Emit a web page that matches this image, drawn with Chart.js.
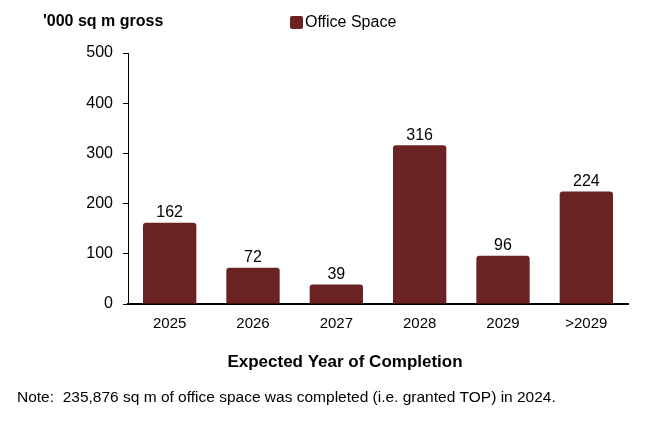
<!DOCTYPE html>
<html><head><meta charset="utf-8">
<script src="https://cdn.jsdelivr.net/npm/chart.js@4/dist/chart.umd.min.js"></script>
<style>html,body{margin:0;padding:0;background:#fff}#wrap{width:650px;height:423px;position:relative}</style>
</head><body><div id="wrap"><canvas id="c" width="650" height="423"></canvas></div>
<script>
const categories = ['2025','2026','2027','2028','2029','>2029'];
const officeSpace = [162, 72, 39, 316, 96, 224];
const yTicks = [0, 100, 200, 300, 400, 500];
const seriesName = 'Office Space';
const yTitle = "'000 sq m gross";
const xTitle = 'Expected Year of Completion';
const note = 'Note:  235,876 sq m of office space was completed (i.e. granted TOP) in 2024.';

const barColor = '#6b2222';
const FONT = 'Arial, "Liberation Sans", sans-serif';

const extras = {
  id: 'extras',
  afterDatasetsDraw(chart) {
    const ctx = chart.ctx;
    const meta = chart.getDatasetMeta(0);
    ctx.save();
    ctx.fillStyle = '#000';
    ctx.font = '16px ' + FONT;
    ctx.textAlign = 'center';
    ctx.textBaseline = 'bottom';
    meta.data.forEach((bar, i) => {
      ctx.fillText(String(officeSpace[i]), bar.x, bar.y - 2);
    });
    ctx.restore();
  },
  afterDraw(chart) {
    const ctx = chart.ctx;
    ctx.save();
    ctx.fillStyle = '#000';
    ctx.textBaseline = 'middle';
    ctx.textAlign = 'left';
    ctx.font = 'bold 16px ' + FONT;
    ctx.fillText(yTitle, 43, 22);
    // legend
    ctx.fillStyle = barColor;
    ctx.beginPath();
    ctx.roundRect(290, 16, 13, 13, 2);
    ctx.fill();
    ctx.fillStyle = '#000';
    ctx.font = '16px ' + FONT;
    ctx.fillText(seriesName, 305, 23);
    // x title
    ctx.textAlign = 'center';
    ctx.font = 'bold 17px ' + FONT;
    ctx.fillText(xTitle, 345, 362);
    // note
    ctx.textAlign = 'left';
    ctx.font = '15.5px ' + FONT;
    ctx.fillText(note, 17, 398);
    ctx.restore();
  }
};

new Chart(document.getElementById('c'), {
  type: 'bar',
  data: {
    labels: categories,
    datasets: [{
      label: seriesName,
      data: officeSpace,
      backgroundColor: barColor,
      borderRadius: 3,
      borderSkipped: 'bottom',
      categoryPercentage: 0.64,
      barPercentage: 1.0
    }]
  },
  options: {
    responsive: false,
    animation: false,
    devicePixelRatio: 1,
    layout: { padding: { left: 0, right: 22, top: 53, bottom: 0 } },
    plugins: { legend: { display: false }, tooltip: { enabled: false } },
    scales: {
      x: {
        grid: { display: false, drawTicks: false },
        border: { display: true, color: '#000', width: 2 },
        ticks: { color: '#000', font: { family: FONT, size: 15 }, padding: 11, maxRotation: 0 },
        afterFit(s) { s.height = 119; }
      },
      y: {
        min: 0, max: 500,
        afterBuildTicks(s) { s.ticks = yTicks.map(v => ({ value: v })); },
        grid: { display: true, drawOnChartArea: false, drawTicks: true, tickLength: 5, color: '#000' },
        border: { display: true, color: '#000', width: 1 },
        ticks: { color: '#000', font: { family: FONT, size: 16 }, padding: 10 },
        afterFit(s) { s.width = 128; }
      }
    }
  },
  plugins: [extras]
});
</script>
</body></html>
